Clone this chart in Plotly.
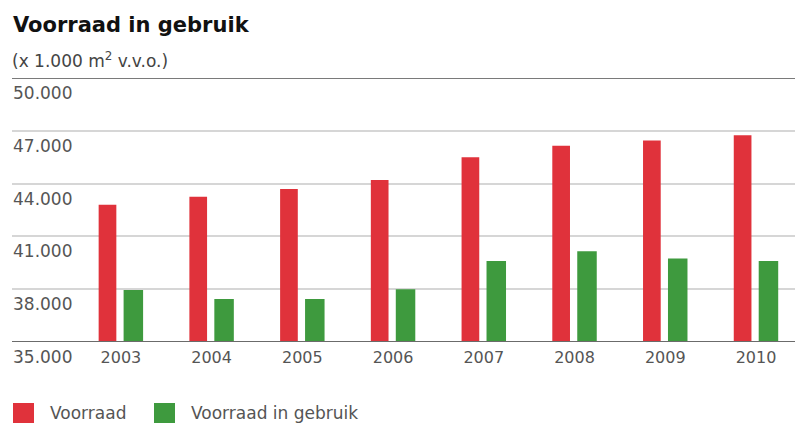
import plotly.graph_objects as go

# Data: floor area stock (x 1.000 m2 v.v.o.)
years = ["2003", "2004", "2005", "2006", "2007", "2008", "2009", "2010"]
voorraad = [42800, 43250, 43700, 44200, 45500, 46150, 46450, 46750]
voorraad_in_gebruik = [37950, 37450, 37450, 38000, 39600, 40150, 39750, 39600]
series_names = ["Voorraad", "Voorraad in gebruik"]
ytick_vals = [35000, 38000, 41000, 44000, 47000, 50000]
ytick_text = ["35.000", "38.000", "41.000", "44.000", "47.000", "50.000"]

RED = "#e0323b"
GREEN = "#3e9a3e"
FONT = "DejaVu Sans"
GREY_TEXT = "#555555"

fig = go.Figure()
fig.add_trace(go.Bar(
    x=list(range(len(years))), y=voorraad, name=series_names[0],
    base=0, width=0.195, offset=-0.245,
    marker=dict(color=RED, line=dict(width=0)), showlegend=False,
))
fig.add_trace(go.Bar(
    x=list(range(len(years))), y=voorraad_in_gebruik, name=series_names[1],
    base=0, width=0.215, offset=0.03,
    marker=dict(color=GREEN, line=dict(width=0)), showlegend=False,
))

fig.update_layout(
    width=795, height=433,
    margin=dict(l=12, r=0, t=78, b=91),
    paper_bgcolor="white", plot_bgcolor="white",
    barmode="overlay",
    font=dict(family=FONT, color=GREY_TEXT),
    xaxis=dict(
        range=[-1.2, 7.43],
        tickmode="array", tickvals=list(range(len(years))), ticktext=years,
        tickfont=dict(size=16, color=GREY_TEXT),
        showgrid=False, zeroline=False, showline=False, ticks="",
        ticklabelstandoff=4,
    ),
    yaxis=dict(
        range=[35000, 50000],
        tickmode="array", tickvals=ytick_vals,
        showticklabels=False,
        showgrid=True, gridcolor="#d6d6d6", gridwidth=2,
        zeroline=False, showline=False, ticks="",
    ),
    showlegend=False,
)

# Value labels sit just below each gridline at the left edge
for yv, txt in zip(ytick_vals, ytick_text):
    fig.add_annotation(text=txt, xref="paper", yref="y", x=0, y=yv,
                       xanchor="left", yanchor="middle", yshift=-15, xshift=-1,
                       showarrow=False, font=dict(family=FONT, size=17, color=GREY_TEXT))

# Darker top and base lines of the chart frame
for yv, col in [(ytick_vals[0], "#6b6b6b"), (ytick_vals[-1], "#7a7a7a")]:
    fig.add_shape(type="line", xref="paper", yref="y", x0=0, x1=1, y0=yv, y1=yv,
                  line=dict(color=col, width=2), layer="above")

# Title and unit line
fig.add_annotation(text="<b>Voorraad in gebruik</b>", xref="paper", yref="paper",
                   x=0, y=1, xshift=-1, yshift=53, xanchor="left", yanchor="middle",
                   showarrow=False, font=dict(family=FONT, size=21, color="#111111"))
fig.add_annotation(text="(x 1.000 m<sup>2</sup> v.v.o.)", xref="paper", yref="paper",
                   x=0, y=1, xshift=-2, yshift=18, xanchor="left", yanchor="middle",
                   showarrow=False, font=dict(family=FONT, size=17, color="#444444"))

# Legend: coloured squares with labels
legend_items = [(series_names[0], RED, 13), (series_names[1], GREEN, 154)]
for name, col, px in legend_items:
    fig.add_shape(type="rect", xref="paper", yref="paper",
                  x0=(px - 12) / 783, x1=(px + 21 - 12) / 783,
                  y0=-(423 - 342) / 264, y1=-(403 - 342) / 264,
                  fillcolor=col, line=dict(width=0))
    fig.add_annotation(text=name, xref="paper", yref="paper",
                       x=(px + 35 - 12) / 783, y=-(413 - 342) / 264,
                       xanchor="left", yanchor="middle", showarrow=False,
                       font=dict(family=FONT, size=17, color=GREY_TEXT))

fig.write_html("out.html")
